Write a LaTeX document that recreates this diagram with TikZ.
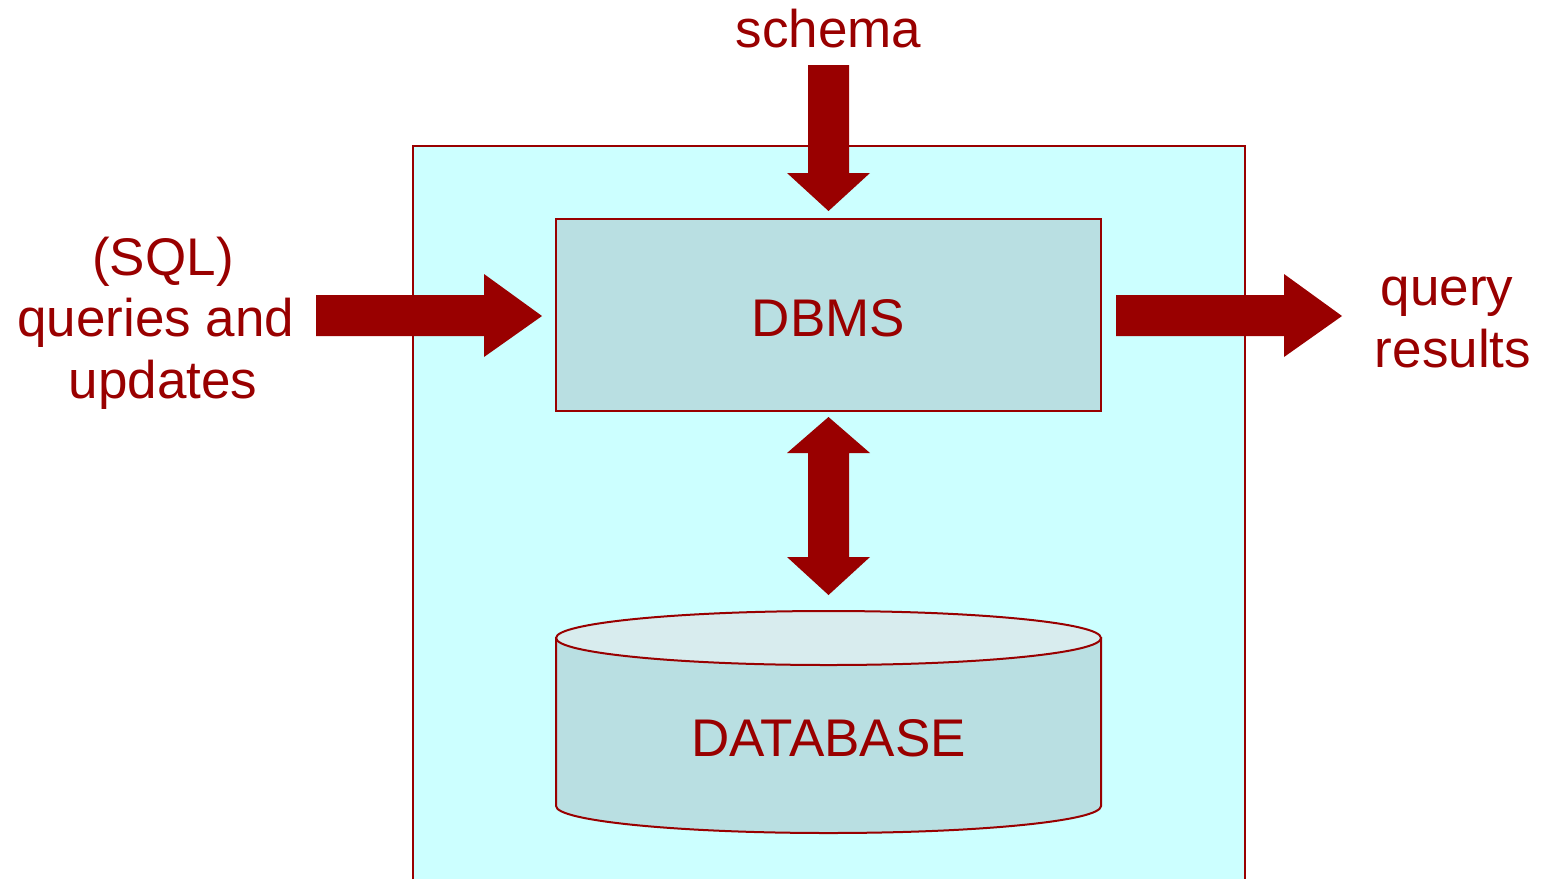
\documentclass[tikz,border=0pt]{standalone}
\usepackage{fontspec}
\setmainfont{Liberation Sans}
\definecolor{dred}{HTML}{990000}
\definecolor{panel}{HTML}{CCFFFF}
\definecolor{boxfill}{HTML}{B9DFE2}
\definecolor{lidfill}{HTML}{D8ECEE}
\tikzset{
  lbl/.style={text=dred, font=\fontsize{53}{61.5}\selectfont, align=center, inner sep=0pt},
  blockarrow/.style={fill=dred, draw=none},
  boxline/.style={draw=dred, line width=2pt}
}
\begin{document}
\begin{tikzpicture}[x=1pt,y=-1pt]
\useasboundingbox (0,0) rectangle (1541,879);
% system panel (open at the bottom)
\fill[panel] (413,146) rectangle (1245,879);
\draw[dred, line width=1.5pt] (413,879) -- (413,146) -- (1245,146) -- (1245,879);
% DBMS box
\node[boxline, fill=boxfill, minimum width=545pt, minimum height=192pt, inner sep=0pt] (dbms) at (828.5,315) {};
\node[lbl, anchor=base] (dbmstxt) at (828.5,336) {DBMS};
% database cylinder
\filldraw[boxline, fill=boxfill] (556,638) -- (556,806) arc[start angle=180, end angle=360, x radius=272.5, y radius=-27] -- (1101,638) -- cycle;
\filldraw[boxline, fill=lidfill] (828.5,638) ellipse[x radius=272.5, y radius=27];
\node[lbl, anchor=base] (db) at (828.5,756) {DATABASE};
% labels (base anchor sits on the last line)
\node[lbl, anchor=base] (schema) at (828.5,47) {schema};
\node[lbl, anchor=base] (sql) at (163,398) {(SQL)\\queries and\rule{14pt}{0pt}\\updates};
\node[lbl, anchor=base] (res) at (1453,367) {query\rule{12pt}{0pt}\\results};
% block arrows
\fill[blockarrow] (808,65) -- (849,65) -- (849,173) -- (870,173) -- (828.5,211) -- (787,173) -- (808,173) -- cycle;
\fill[blockarrow] (316,295) -- (484,295) -- (484,274) -- (542,316) -- (484,357) -- (484,336) -- (316,336) -- cycle;
\fill[blockarrow] (1116,295) -- (1284,295) -- (1284,274) -- (1342,316) -- (1284,357) -- (1284,336) -- (1116,336) -- cycle;
\fill[blockarrow] (828.5,417) -- (870,453) -- (849,453) -- (849,557) -- (870,557) -- (828.5,595) -- (787,557) -- (808,557) -- (808,453) -- (787,453) -- cycle;
\end{tikzpicture}
\end{document}
